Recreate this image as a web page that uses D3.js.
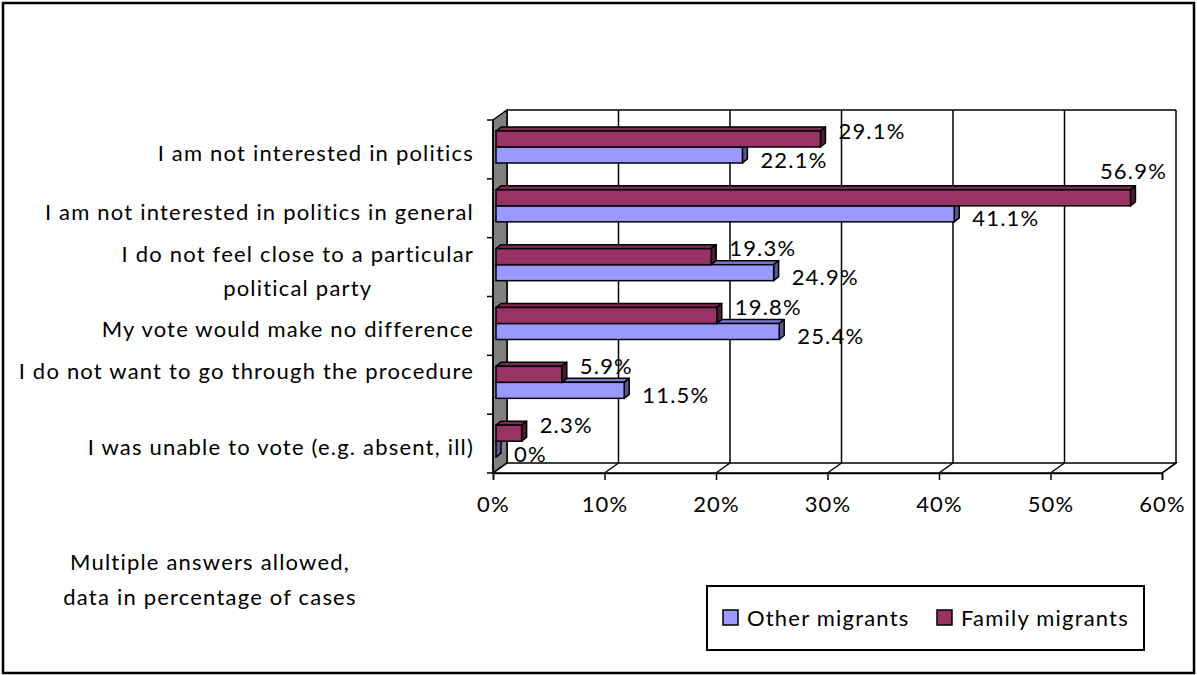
<!DOCTYPE html>
<html>
<head>
<meta charset="utf-8">
<title>Reasons for not voting</title>
<style>
  body { margin: 0; background: #fff; }
  text { font-family: Lato, "Open Sans", sans-serif; fill: #000; letter-spacing: 1.2px; }
</style>
</head>
<body>
<script src="https://cdnjs.cloudflare.com/ajax/libs/d3/7.8.5/d3.min.js"></script>
<script>
// chart data
var categories = [
  ["I am not interested in politics"],
  ["I am not interested in politics in general"],
  ["I do not feel close to a particular", "political party"],
  ["My vote would make no difference"],
  ["I do not want to go through the procedure", ""],
  ["I was unable to vote (e.g. absent, ill)"]
];
var familyMigrants = [29.1, 56.9, 19.3, 19.8, 5.9, 2.3];
var otherMigrants = [22.1, 41.1, 24.9, 25.4, 11.5, 0];
var xTicks = [0, 10, 20, 30, 40, 50, 60];
var seriesNames = ["Other migrants", "Family migrants"];
var noteLines = ["Multiple answers allowed,", "data in percentage of cases"];

var W = 1197, H = 675;
var FS = 22; // font size
var DX = 14, DY = 10; // depth of the 3D floor / wall
var BDX = 5, BDY = 4; // depth of the bars
var maroon = "#993366", blue = "#9999FF";

var svg = d3.select("body").append("svg")
  .attr("width", W)
  .attr("height", H);

// outer frame
svg.append("rect")
  .attr("x", 3).attr("y", 3)
  .attr("width", W - 6).attr("height", H - 5)
  .attr("fill", "#fff").attr("stroke", "#000").attr("stroke-width", 2.5);

var x = d3.scaleLinear().domain([0, 60]).range([493, 1162]); // front edge of floor
var y = d3.scaleBand().domain(d3.range(categories.length)).range([120, 473]);
var xBar = function(v) { return x(v) + 3; };

var plotTop = y.range()[0], plotBottom = y.range()[1];

// back wall grid lines
svg.selectAll("line.grid")
  .data(xTicks)
  .enter().append("line")
  .attr("class", "grid")
  .attr("x1", function(d) { return x(d) + DX; })
  .attr("x2", function(d) { return x(d) + DX; })
  .attr("y1", plotTop - DY).attr("y2", plotBottom - DY)
  .attr("stroke", "#000").attr("stroke-width", 1.5);

svg.append("line")
  .attr("x1", x(0) + DX).attr("x2", x(60) + DX)
  .attr("y1", plotTop - DY).attr("y2", plotTop - DY)
  .attr("stroke", "#000").attr("stroke-width", 1.5);

// left side wall (grey)
svg.append("polygon")
  .attr("points", [[x(0), plotTop], [x(0) + DX, plotTop - DY], [x(0) + DX, plotBottom - DY], [x(0), plotBottom]].join(" "))
  .attr("fill", "#808080").attr("stroke", "#000").attr("stroke-width", 1.5);

// floor
svg.append("polygon")
  .attr("points", [[x(0), plotBottom], [x(0) + DX, plotBottom - DY], [x(60) + DX, plotBottom - DY], [x(60), plotBottom]].join(" "))
  .attr("fill", "#fff").attr("stroke", "#000").attr("stroke-width", 1.5);

svg.selectAll("line.floor")
  .data(xTicks)
  .enter().append("line")
  .attr("class", "floor")
  .attr("x1", function(d) { return x(d); })
  .attr("x2", function(d) { return x(d) + DX; })
  .attr("y1", plotBottom).attr("y2", plotBottom - DY)
  .attr("stroke", "#000").attr("stroke-width", 1.5);

// bottom axis
var xAxis = d3.axisBottom(x)
  .tickValues(xTicks)
  .tickSize(7)
  .tickPadding(16)
  .tickFormat(function(d) { return d + "%"; });

var gx = svg.append("g")
  .attr("transform", "translate(0," + plotBottom + ")")
  .call(xAxis);
gx.select(".domain").attr("stroke", "#000").attr("stroke-width", 1.5);
gx.selectAll(".tick line").attr("stroke", "#000").attr("stroke-width", 1.5);
gx.selectAll(".tick text")
  .style("font-family", "Lato, sans-serif")
  .attr("font-size", FS).attr("fill", "#000");

// left axis with ticks at category boundaries
svg.append("line")
  .attr("x1", x(0)).attr("x2", x(0))
  .attr("y1", plotTop).attr("y2", plotBottom)
  .attr("stroke", "#000").attr("stroke-width", 1.5);

var bounds = d3.range(categories.length + 1).map(function(i) {
  return i < categories.length ? y(i) : plotBottom;
});
svg.selectAll("line.ytick")
  .data(bounds)
  .enter().append("line")
  .attr("class", "ytick")
  .attr("x1", x(0) - 6).attr("x2", x(0))
  .attr("y1", function(d) { return d; }).attr("y2", function(d) { return d; })
  .attr("stroke", "#000").attr("stroke-width", 1.5);

// category labels, right aligned block, lines centred on each other
var lineH = 34;
categories.forEach(function(lines, i) {
  var g = svg.append("g");
  var cy = y(i) + y.bandwidth() / 2 + 3;
  var t = g.selectAll("text")
    .data(lines)
    .enter().append("text")
    .attr("font-size", FS)
    .attr("dominant-baseline", "central")
    .attr("text-anchor", "middle")
    .attr("y", function(d, j) { return cy + (j - (lines.length - 1) / 2) * lineH; })
    .text(function(d) { return d; });
  var maxW = 0;
  t.each(function() { maxW = Math.max(maxW, this.getComputedTextLength()); });
  t.attr("x", 474 - maxW / 2);
});

// 3D bars
function drawBar(g, v, yTop, h, front, topFace, side) {
  var x0 = xBar(0), x1 = xBar(v);
  g.append("polygon")
    .attr("points", [[x0, yTop], [x0 + BDX, yTop - BDY], [x1 + BDX, yTop - BDY], [x1, yTop]].join(" "))
    .attr("fill", topFace).attr("stroke", "#000").attr("stroke-width", 1.5).attr("stroke-linejoin", "round");
  g.append("polygon")
    .attr("points", [[x1, yTop], [x1 + BDX, yTop - BDY], [x1 + BDX, yTop + h - BDY], [x1, yTop + h]].join(" "))
    .attr("fill", side).attr("stroke", "#000").attr("stroke-width", 1.5).attr("stroke-linejoin", "round");
  g.append("rect")
    .attr("x", x0).attr("y", yTop)
    .attr("width", x1 - x0).attr("height", h)
    .attr("fill", front).attr("stroke", "#000").attr("stroke-width", 1.5);
}

var barH = 16;
var bars = svg.append("g");
categories.forEach(function(c, i) {
  var b = y(i);
  drawBar(bars, otherMigrants[i], b + 27, barH, blue, "#7b7bd6", "#55558f");
  drawBar(bars, familyMigrants[i], b + 11, barH, maroon, "#7d2953", "#4f1a35");
});

// value labels
var labels = svg.append("g");
function addLabel(v, barTop, dy) {
  var t = labels.append("text")
    .attr("font-size", FS)
    .attr("dominant-baseline", "central")
    .attr("x", xBar(v) + BDX + 13)
    .attr("y", barTop + barH / 2 + dy)
    .text(d3.format("")(v) + "%");
  // labels that would run past the back wall go above the bar
  if (xBar(v) + BDX + 13 + t.node().getComputedTextLength() > x(60) + DX) {
    t.attr("text-anchor", "end")
      .attr("x", x(60) + 5)
      .attr("y", barTop - 19);
  }
}
categories.forEach(function(c, i) {
  var b = y(i);
  addLabel(familyMigrants[i], b + 11, -9);
  addLabel(otherMigrants[i], b + 27, 4);
});

// note
svg.selectAll("text.note")
  .data(noteLines)
  .enter().append("text")
  .attr("class", "note")
  .attr("font-size", FS)
  .attr("text-anchor", "middle")
  .attr("dominant-baseline", "central")
  .attr("x", 210)
  .attr("y", function(d, i) { return 561 + i * 35; })
  .text(function(d) { return d; });

// legend
var legend = svg.append("g");
legend.append("rect")
  .attr("x", 707).attr("y", 586)
  .attr("width", 437).attr("height", 64)
  .attr("fill", "#fff").attr("stroke", "#000").attr("stroke-width", 2);

var legX = [723, 937];
var legColors = [blue, maroon];
seriesNames.forEach(function(name, i) {
  legend.append("rect")
    .attr("x", legX[i]).attr("y", 610)
    .attr("width", 15).attr("height", 15)
    .attr("fill", legColors[i]).attr("stroke", "#000").attr("stroke-width", 1.5);
  legend.append("text")
    .attr("font-size", FS)
    .attr("dominant-baseline", "central")
    .attr("x", legX[i] + 24).attr("y", 617)
    .text(name);
});
</script>
</body>
</html>
